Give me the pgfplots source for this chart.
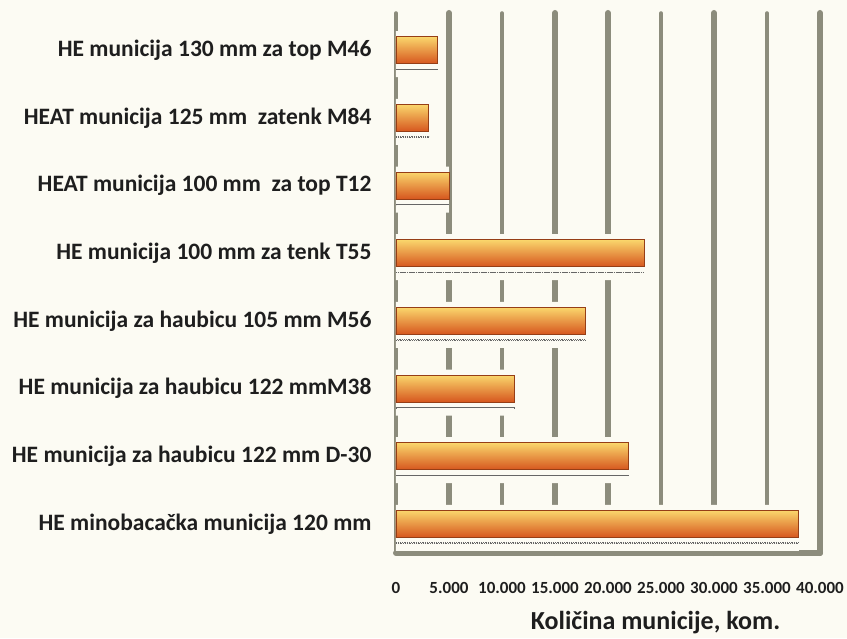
\documentclass[border=0pt]{standalone}
\usepackage{pgfplots}
\pgfplotsset{compat=1.18}
\usepackage{fontspec}
\setmainfont{Carlito}
\usetikzlibrary{patterns}

\definecolor{bgcream}{RGB}{252,251,243}
\definecolor{gridgray}{RGB}{140,140,124}
\definecolor{bartop}{RGB}{250,214,108}
\definecolor{barmid}{RGB}{241,128,48}
\definecolor{barbot}{RGB}{214,86,30}
\definecolor{baredge}{RGB}{150,62,22}
\definecolor{txt}{RGB}{30,30,30}

\pgfplotsset{
    munbar/.style={xbar, bar width=27pt, bar shift=0pt, draw=baredge, line width=0.8pt,
        top color=bartop, middle color=barmid, bottom color=barbot,
        postaction={pattern=north east lines, pattern color=barbot!50!barmid}},
}

\begin{document}
\begin{tikzpicture}
\fill[bgcream] (0,0) rectangle (847pt,638pt);
\path[use as bounding box] (0,0) rectangle (847pt,638pt);
\begin{axis}[
    at={(396pt,85pt)}, anchor=south west,
    scale only axis,
    width=424pt, height=540pt,
    xmin=0, xmax=40000,
    ymin=-0.43, ymax=7.55,
    axis line style={draw=none},
    major tick length=0,
    scaled x ticks=false,
    xtick={0,5000,...,40000},
    xticklabels={0,5.000,10.000,15.000,20.000,25.000,30.000,35.000,40.000},
    xticklabel style={font=\fontsize{17}{20}\selectfont\bfseries, text=txt, yshift=-26pt},
    ytick={0,...,7},
    yticklabels={
        HE minobacačka municija 120 mm,
        HE municija za haubicu 122 mm D-30,
        HE municija za haubicu 122 mmM38,
        HE municija za haubicu 105 mm M56,
        HE municija 100 mm za tenk T55,
        HEAT municija 100 mm\ \ za top T12,
        HEAT municija 125 mm\ \ zatenk M84,
        HE municija 130 mm za top M46},
    yticklabel style={font=\fontsize{23.5}{27}\selectfont\bfseries, text=txt, anchor=east, xshift=-21pt},
    xmajorgrids,
    major grid style={gridgray, line width=3.5pt, line cap=round},
    extra x ticks={5000,15000,20000,30000,40000},
    extra x tick labels={},
    extra x tick style={grid=major, major grid style={gridgray, line width=6pt, line cap=round}},
    extra y ticks={-0.43},
    extra y tick labels={},
    extra y tick style={grid=major, major grid style={gridgray, line width=6pt, line cap=round}},
    xlabel={Količina municije, kom.},
    xlabel style={font=\fontsize{26}{30}\selectfont\bfseries, text=txt,
        at={(axis description cs:0.612,0)}, anchor=north, yshift=-55pt},
]
% white band behind each bar
\addplot[xbar, bar width=46pt, bar shift=-4pt, fill=bgcream, draw=none] coordinates {
    (38000,0) (21900,1) (11200,2) (17900,3) (23400,4) (5000,5) (3100,6) (3900,7)
};
% dotted ruler under each bar
\addplot[xbar, bar width=0.1pt, bar shift=-19pt, fill=none, draw=gray!80!black, densely dotted, line width=0.8pt] coordinates {
    (38000,0) (21900,1) (11200,2) (17900,3) (23400,4) (5000,5) (3100,6) (3900,7)
};
% bars, one plot each so every bar gets its own shading
\addplot[munbar] coordinates {(38000,0)};
\addplot[munbar] coordinates {(21900,1)};
\addplot[munbar] coordinates {(11200,2)};
\addplot[munbar] coordinates {(17900,3)};
\addplot[munbar] coordinates {(23400,4)};
\addplot[munbar] coordinates {(5000,5)};
\addplot[munbar] coordinates {(3100,6)};
\addplot[munbar] coordinates {(3900,7)};
\end{axis}
\end{tikzpicture}
\end{document}
